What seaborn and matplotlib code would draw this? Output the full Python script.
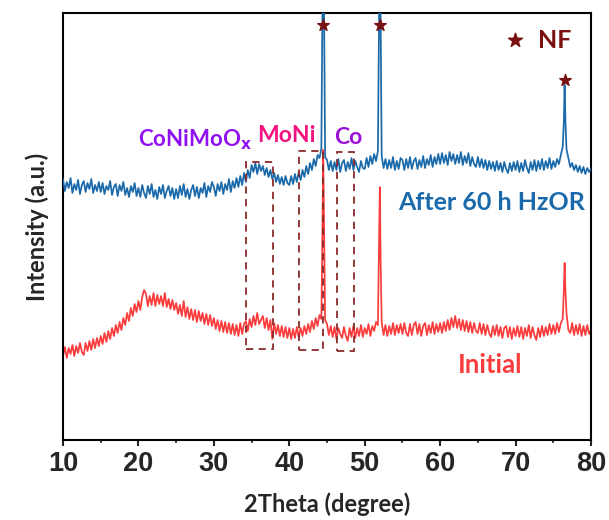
import numpy as np
import pandas as pd
import matplotlib
matplotlib.use("Agg")
import matplotlib.pyplot as plt
import seaborn as sns
from matplotlib.patches import Rectangle

# ---------------- data (intensity in arbitrary units) -------------
two_theta = np.linspace(10, 80, 281)  # 0.25 degree steps

after_hzor = [
    261, 249, 258, 252, 262, 247, 256, 250, 260, 246, 255, 259, 248, 257, 251, 261, 247, 255, 249, 258,
    248, 257, 246, 254, 250, 259, 245, 253, 256, 244, 255, 249, 258, 245, 252, 243, 254, 248, 257, 244,
    252, 243, 255, 247, 242, 254, 246, 256, 243, 250, 241, 253, 246, 255, 242, 249, 254, 244, 252, 241,
    251, 242, 254, 245, 256, 243, 251, 241, 250, 255, 244, 253, 242, 252, 247, 257, 243, 254, 248, 258,
    253, 244, 256, 249, 258, 246, 256, 250, 261, 248, 259, 252, 262, 253, 264, 255, 267, 258, 270, 262,
    275, 268, 277, 266, 276, 269, 274, 265, 272, 263, 270, 261, 267, 258, 265, 256, 263, 255, 264, 257,
    255, 264, 256, 266, 258, 268, 260, 270, 263, 274, 266, 277, 270, 281, 274, 285, 282, 291, 700, 283,
    280, 270, 279, 269, 278, 270, 281, 268, 277, 280, 269, 278, 271, 282, 270, 279, 273, 268, 279, 272,
    271, 282, 273, 284, 276, 286, 279, 289, 700, 284, 272, 281, 271, 280, 272, 283, 270, 279, 271, 282,
    280, 270, 281, 272, 283, 271, 279, 282, 271, 280, 273, 284, 272, 281, 275, 285, 273, 283, 276, 286,
    276, 287, 277, 285, 275, 288, 279, 286, 276, 285, 277, 288, 275, 284, 277, 287, 274, 283, 276, 273,
    283, 273, 281, 272, 280, 270, 279, 271, 278, 269, 279, 270, 277, 268, 278, 271, 267, 277, 269, 278,
    270, 279, 268, 277, 269, 280, 272, 267, 278, 270, 280, 269, 279, 271, 281, 270, 279, 272, 282, 271,
    279, 273, 281, 276, 285, 293, 355, 291, 282, 273, 277, 270, 275, 268, 274, 267, 273, 266, 272, 268,
    271,
]

initial = [
    84, 93, 82, 92, 86, 95, 84, 94, 87, 97, 88, 85, 97, 89, 99, 90, 101, 92, 102, 94,
    104, 96, 107, 98, 109, 101, 112, 104, 115, 107, 118, 110, 122, 115, 127, 119, 132, 124, 136, 128,
    139, 130, 143, 150, 146, 134, 144, 135, 147, 134, 145, 136, 144, 134, 147, 133, 141, 131, 140, 130,
    137, 126, 135, 124, 139, 123, 133, 121, 131, 120, 130, 118, 129, 119, 127, 116, 126, 115, 125, 114,
    122, 111, 120, 109, 119, 108, 118, 107, 117, 106, 116, 105, 115, 104, 117, 106, 116, 119, 109, 121,
    113, 124, 115, 127, 116, 120, 124, 112, 122, 110, 120, 101, 117, 106, 115, 104, 114, 103, 113, 102,
    112, 101, 111, 102, 113, 103, 112, 104, 114, 106, 116, 108, 119, 111, 122, 114, 125, 121, 290, 120,
    116, 105, 114, 103, 113, 101, 112, 106, 102, 113, 104, 99, 112, 103, 114, 102, 112, 104, 115, 103,
    112, 106, 116, 104, 114, 109, 118, 115, 253, 118, 105, 115, 104, 114, 106, 117, 105, 115, 107, 116,
    106, 117, 107, 104, 116, 105, 115, 118, 106, 116, 104, 114, 117, 105, 115, 107, 118, 106, 116, 108,
    117, 107, 118, 109, 120, 110, 122, 113, 124, 112, 121, 110, 120, 109, 119, 108, 118, 107, 117, 109,
    107, 117, 106, 116, 105, 115, 107, 103, 114, 105, 115, 104, 113, 102, 112, 114, 103, 113, 101, 112,
    104, 114, 103, 113, 101, 112, 104, 115, 102, 113, 105, 100, 112, 103, 114, 104, 113, 105, 116, 106,
    115, 106, 117, 108, 117, 121, 177, 127, 110, 107, 117, 105, 115, 106, 116, 104, 114, 105, 115, 106,
    110,
]

# peak flank points (between the 0.25-degree grid points)
after_peak_x = [44.4, 44.6, 51.9, 52.1, 76.4, 76.6]
after_peak_y = [430, 440, 420, 430, 318, 322]
initial_peak_x = [44.4, 44.6, 51.9, 52.1, 76.4, 76.6]
initial_peak_y = [215, 225, 195, 185, 150, 152]

# NF reflections (star markers)
nf_x = [44.5, 52.0, 76.5]
nf_y = [415, 415, 360]

# dashed phase boxes
box_x0 = [34.2, 41.3, 46.3]
box_x1 = [37.9, 44.5, 48.6]
box_y0 = [91, 90, 89]
box_y1 = [278, 289, 288]

x_ticks = [10, 20, 30, 40, 50, 60, 70, 80]

assert len(after_hzor) == len(two_theta) and len(initial) == len(two_theta)

# ---------------- build tables -------------
def series(xg, yg, xp, yp, name):
    d = pd.DataFrame({"2theta": np.concatenate([xg, xp]),
                      "I": np.concatenate([yg, yp])})
    d = d.sort_values("2theta").reset_index(drop=True)
    d["sample"] = name
    return d

df_after = series(two_theta, after_hzor, after_peak_x, after_peak_y, "After 60 h HzOR")
df_init = series(two_theta, initial, initial_peak_x, initial_peak_y, "Initial")

# ---------------- plot -------------
sns.set_style("ticks")
plt.rcParams["font.family"] = ["Lato", "DejaVu Sans"]

fig = plt.figure(figsize=(6.09, 5.2), dpi=100)
ax = fig.add_axes([63 / 609, 80 / 520, 528 / 609, 427 / 520])

BLUE = "#1a6aab"
RED = "#fb3c3c"
DARKRED = "#7a1010"

sns.lineplot(data=df_init, x="2theta", y="I", color=RED, lw=1.25, ax=ax,
             estimator=None, sort=False, zorder=2)
sns.lineplot(data=df_after, x="2theta", y="I", color=BLUE, lw=1.25, ax=ax,
             estimator=None, sort=False, zorder=3)

ax.scatter(nf_x, nf_y, marker="*", s=75, color=DARKRED, zorder=5, clip_on=False)

for x0, x1, y0, y1 in zip(box_x0, box_x1, box_y0, box_y1):
    ax.add_patch(Rectangle((x0, y0), x1 - x0, y1 - y0, fill=False,
                           edgecolor="#8a2a2a", lw=1.3, ls=(0, (4, 3)), zorder=4))

ax.set_xlim(10, 80)
ax.set_ylim(0, 427)
ax.set_xticks(x_ticks)
ax.set_xticks([15, 25, 35, 45, 55, 65, 75], minor=True)
ax.set_yticks([])
ax.tick_params(axis="x", which="major", length=4, width=1.5, direction="out", pad=4)
ax.tick_params(axis="x", which="minor", length=2.5, width=1.2, direction="out")
for lab in ax.get_xticklabels():
    lab.set_fontfamily("Liberation Sans")
    lab.set_fontweight("bold")
    lab.set_fontsize(19.5)
for s in ax.spines.values():
    s.set_linewidth(1.5)
    s.set_color("black")

ax.set_xlabel("2Theta (degree)", fontsize=17, fontweight="bold", labelpad=11)
ax.set_ylabel("Intensity (a.u.)", fontsize=17, fontweight="bold", labelpad=10)

ax.text(19.9, 300, "CoNiMoO$_\\mathbf{x}$", color="#8f10f0", fontsize=16,
        fontweight="bold", va="center", ha="left")
ax.text(35.7, 304, "MoNi", color="#f5147f", fontsize=16.5, fontweight="bold",
        va="center", ha="left")
ax.text(46.0, 302, "Co", color="#9a10d8", fontsize=16.5,
        fontweight="bold", va="center", ha="left")
ax.text(54.4, 237, "After 60 h HzOR", color=BLUE, fontsize=18, fontweight="bold",
        va="center", ha="left")
ax.text(62.4, 75, "Initial", color=RED, fontsize=18.5, fontweight="bold",
        va="center", ha="left")
ax.scatter([69.9], [400], marker="*", s=110, color=DARKRED, zorder=5)
ax.text(73.0, 400, "NF", color=DARKRED, fontsize=18, fontweight="bold",
        va="center", ha="left")

fig.savefig("out.png", dpi=100)
